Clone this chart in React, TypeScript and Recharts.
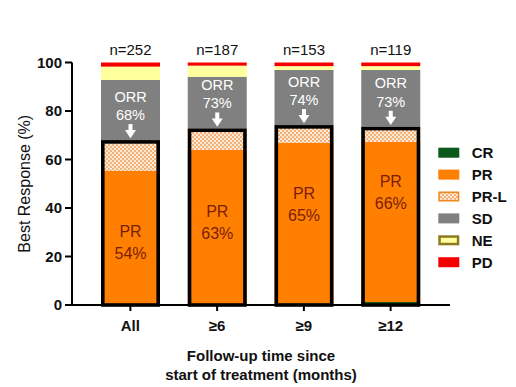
import React from 'react';
import { BarChart, Bar, XAxis, YAxis } from 'recharts';

const categories = ['All', '≥6', '≥9', '≥12'];
const crValues = [0, 0, 0.6, 1.2];
const prValues = [55.3, 64.0, 66.3, 66.1];
const prlValues = [12.7, 8.8, 7.3, 6.2];
const sdValues = [24.8, 21.3, 22.7, 23.4];
const neValues = [5.5, 4.6, 1.6, 1.6];
const pdValues = [1.7, 1.3, 1.5, 1.5];
const nLabels = ['n=252', 'n=187', 'n=153', 'n=119'];
const orrLabels = ['68%', '73%', '74%', '73%'];
const prLabels = ['54%', '63%', '65%', '66%'];
const prLabelLevels = [25.8, 34.1, 41.4, 46.4];
const yTicks = [0, 20, 40, 60, 80, 100];
const seriesKeys = ['CR', 'PR', 'PRL', 'SD', 'NE', 'PD'];
const seriesNames = ['CR', 'PR', 'PR-L', 'SD', 'NE', 'PD'];

const FONT = "'Liberation Sans', Arial, Helvetica, sans-serif";
const COLORS: Record<string, string> = {
  CR: '#0b5a1b',
  PR: '#ff8000',
  PRL: 'url(#prlPattern)',
  SD: '#808080',
  NE: '#ffff9e',
  PD: '#f50000',
};

const data = categories.map((cat, i) => ({
  cat,
  CR: crValues[i],
  PR: prValues[i],
  PRL: prlValues[i],
  SD: sdValues[i],
  NE: neValues[i],
  PD: pdValues[i],
}));

const PatternDef = ({ id }: { id: string }) => (
  <pattern id={id} width={4} height={4} patternUnits="userSpaceOnUse">
    <rect x={0} y={0} width={4} height={4} fill="#fde9d4" />
    <rect x={0} y={0} width={2} height={2} fill="#f4b27a" />
    <rect x={2} y={2} width={2} height={2} fill="#f4b27a" />
  </pattern>
);

const PdShape = (props: any) => {
  const { x, y, width, height, index, payload } = props;
  const k = height / payload.PD;
  const below = payload.CR + payload.PR + payload.PRL + payload.SD + payload.NE;
  const y0 = y + height + below * k;
  const orrTop = y0 - (payload.CR + payload.PR + payload.PRL) * k;
  const cx = x + width / 2;
  const prY = y0 - prLabelLevels[index] * k;
  const sw = 3.6;
  return (
    <g>
      <rect x={x} y={y} width={width} height={height} fill={COLORS.PD} />
      <rect
        x={x + sw / 2}
        y={orrTop + sw / 2}
        width={width - sw}
        height={y0 - orrTop - sw / 2}
        fill="none"
        stroke="#000"
        strokeWidth={sw}
      />
      <text x={cx} y={y - 7.5} textAnchor="middle" fontSize={15} fill="#111" fontFamily={FONT}>
        {nLabels[index]}
      </text>
      <text x={cx} y={orrTop - 43.5} textAnchor="middle" dominantBaseline="central" fontSize={14.5} fill="#fff" fontFamily={FONT}>
        ORR
      </text>
      <text x={cx} y={orrTop - 25} textAnchor="middle" dominantBaseline="central" fontSize={14.5} fill="#fff" fontFamily={FONT}>
        {orrLabels[index]}
      </text>
      <rect x={cx - 2} y={orrTop - 16} width={4} height={6.5} fill="#fff" />
      <polygon
        points={`${cx - 5.5},${orrTop - 10} ${cx + 5.5},${orrTop - 10} ${cx},${orrTop - 1.8}`}
        fill="#fff"
      />
      <text x={cx} y={prY - 10.7} textAnchor="middle" dominantBaseline="central" fontSize={16} fill="#7a1e08" fontFamily={FONT}>
        PR
      </text>
      <text x={cx} y={prY + 10.8} textAnchor="middle" dominantBaseline="central" fontSize={16} fill="#7a1e08" fontFamily={FONT}>
        {prLabels[index]}
      </text>
    </g>
  );
};

const YTitle = (props: any) => {
  const vb = props.viewBox || { x: 0, y: 62.5, width: 72, height: 242.5 };
  const cx = vb.x + 24.5;
  const cy = vb.y + vb.height / 2;
  return (
    <text
      x={cx}
      y={cy}
      transform={`rotate(-90, ${cx}, ${cy})`}
      textAnchor="middle"
      dominantBaseline="central"
      fontSize={16}
      fill="#111"
      fontFamily={FONT}
    >
      Best Response (%)
    </text>
  );
};

const XTitle = (props: any) => {
  const vb = props.viewBox || { x: 72, y: 305, width: 378, height: 30 };
  const cx = vb.x + vb.width / 2;
  return (
    <g>
      <text x={cx} y={vb.y + 56.4} textAnchor="middle" fontSize={15} fontWeight="bold" fill="#111" fontFamily={FONT}>
        Follow-up time since
      </text>
      <text x={cx} y={vb.y + 75.4} textAnchor="middle" fontSize={15} fontWeight="bold" fill="#111" fontFamily={FONT}>
        start of treatment (months)
      </text>
    </g>
  );
};

const LegendBox = () => (
  <svg width={80} height={140} style={{ position: 'absolute', left: 436, top: 144, overflow: 'visible' }}>
    <defs>
      <PatternDef id="prlPatternLegend" />
    </defs>
    {seriesKeys.map((key, i) => {
      const cy = 8.7 + 21.9 * i;
      let fill = COLORS[key];
      let stroke = 'none';
      let sw = 0;
      if (key === 'PRL') {
        fill = 'url(#prlPatternLegend)';
        stroke = '#f08a20';
        sw = 1.5;
      }
      if (key === 'NE') {
        stroke = '#8b7b20';
        sw = 2.5;
      }
      return (
        <g key={key}>
          <rect
            x={2.3 + sw / 2}
            y={cy - 5 + sw / 2}
            width={21 - sw}
            height={10 - sw}
            fill={fill}
            stroke={stroke}
            strokeWidth={sw}
          />
          <text x={35.7} y={cy} dominantBaseline="central" fontSize={15} fontWeight="bold" fill="#111" fontFamily={FONT}>
            {seriesNames[i]}
          </text>
        </g>
      );
    })}
  </svg>
);

export default function App() {
  return (
    <div style={{ position: 'absolute', left: 0, top: 0, width: 516, height: 387, background: '#fff', overflow: 'hidden' }}>
      <BarChart
        width={516}
        height={387}
        data={data}
        margin={{ top: 62.5, right: 66, bottom: 52, left: 0 }}
      >
        <defs>
          <PatternDef id="prlPattern" />
        </defs>
        <XAxis
          dataKey="cat"
          height={30}
          padding={{ left: 15, right: 16 }}
          tickSize={6}
          tickMargin={9.5}
          axisLine={{ stroke: '#000', strokeWidth: 2 }}
          tickLine={{ stroke: '#000', strokeWidth: 2 }}
          tick={{ fill: '#111', fontSize: 15, fontWeight: 'bold', fontFamily: FONT }}
          label={(p: any) => <XTitle {...p} />}
        />
        <YAxis
          domain={[0, 100]}
          ticks={yTicks}
          width={72}
          tickSize={7}
          tickMargin={3}
          axisLine={{ stroke: '#000', strokeWidth: 2 }}
          tickLine={{ stroke: '#000', strokeWidth: 2 }}
          tick={{ fill: '#111', fontSize: 15, fontWeight: 'bold', fontFamily: FONT }}
          label={(p: any) => <YTitle {...p} />}
        />
        <Bar dataKey="CR" stackId="a" fill={COLORS.CR} barSize={59} isAnimationActive={false} />
        <Bar dataKey="PR" stackId="a" fill={COLORS.PR} barSize={59} isAnimationActive={false} />
        <Bar dataKey="PRL" stackId="a" fill={COLORS.PRL} barSize={59} isAnimationActive={false} />
        <Bar dataKey="SD" stackId="a" fill={COLORS.SD} barSize={59} isAnimationActive={false} />
        <Bar dataKey="NE" stackId="a" fill={COLORS.NE} barSize={59} isAnimationActive={false} />
        <Bar dataKey="PD" stackId="a" fill={COLORS.PD} barSize={59} isAnimationActive={false} shape={PdShape} />
      </BarChart>
      <LegendBox />
    </div>
  );
}
